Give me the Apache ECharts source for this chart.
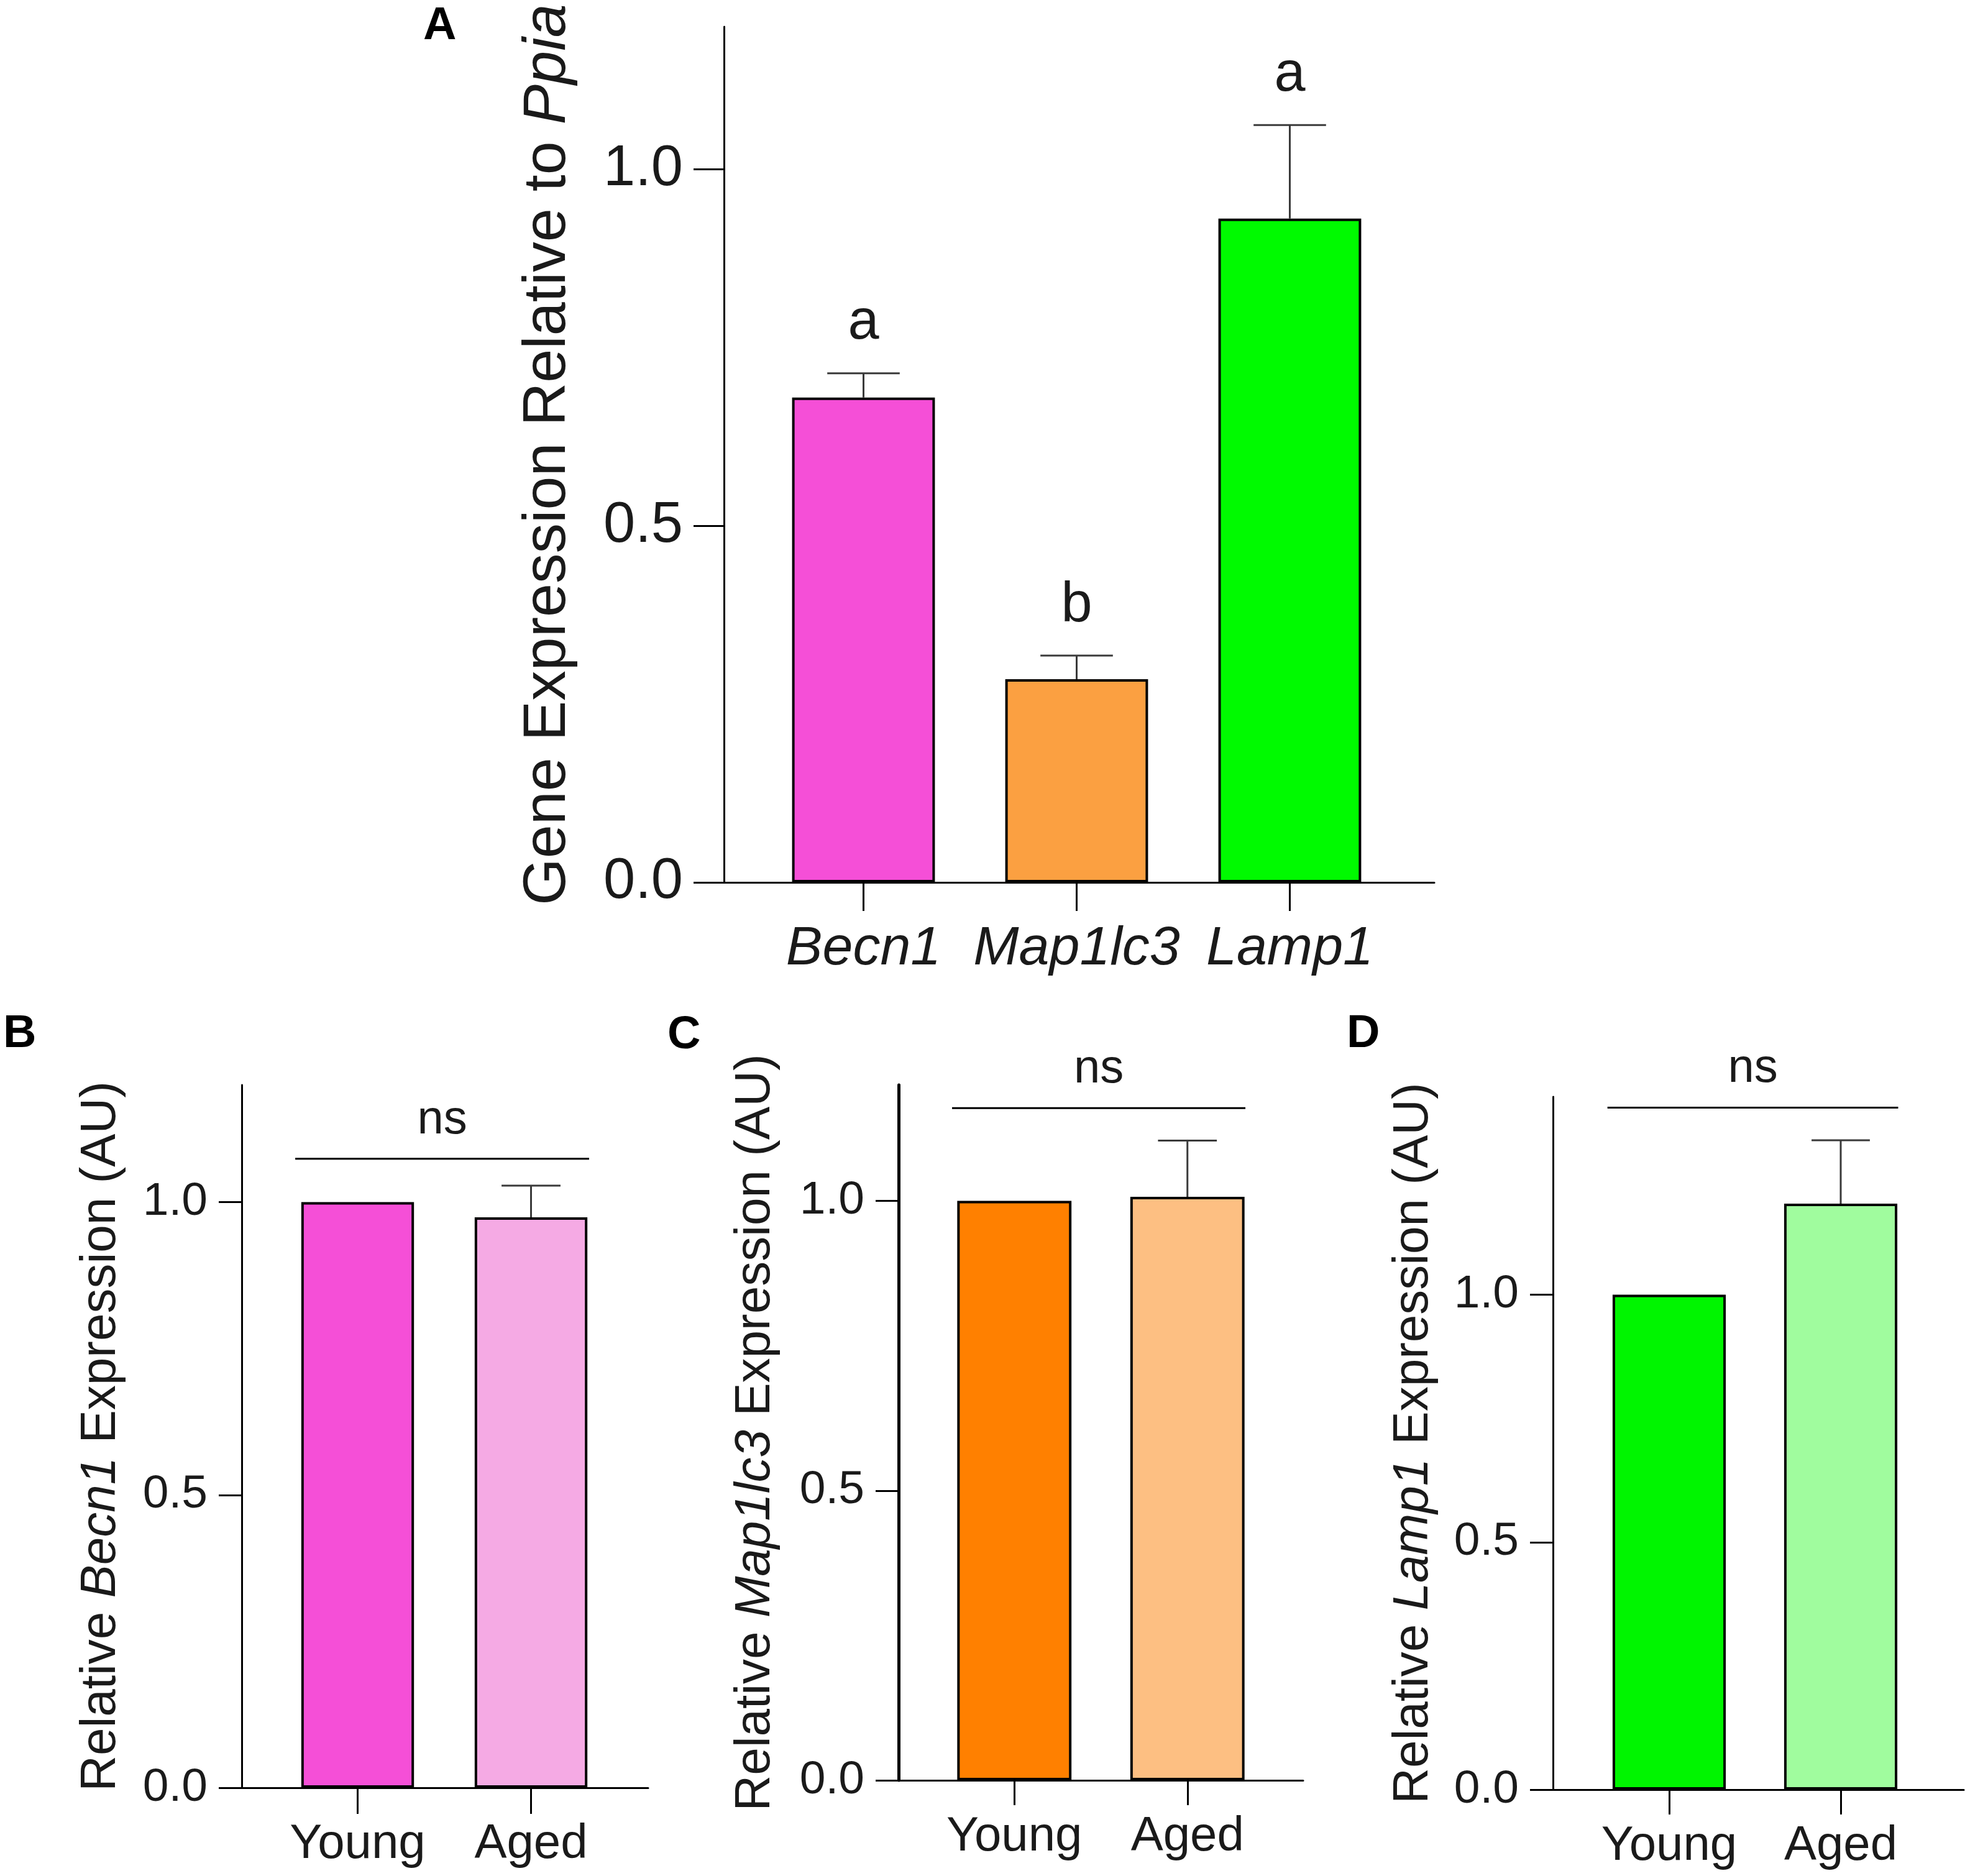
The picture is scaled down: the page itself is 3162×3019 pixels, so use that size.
<!DOCTYPE html>
<html>
<head>
<meta charset="utf-8">
<script src="https://cdn.jsdelivr.net/npm/echarts@6/dist/echarts.min.js"></script>
<style>
  html, body { margin: 0; padding: 0; background: #fff; }
  #main { width: 3162px; height: 3019px; }
</style>
</head>
<body>
<div id="main"></div>
<script>
// values
const geneNames = ['Becn1', 'Map1lc3', 'Lamp1'];
const geneValues = [0.68, 0.285, 0.931];
const geneErrors = [0.034, 0.033, 0.131];
const geneLetters = ['a', 'b', 'a'];
const geneColors = ['#f54fd7', '#fba041', '#00fa00'];

const ageGroups = ['Young', 'Aged'];
const becn1Values = [1.0, 0.974];
const becn1Errors = [0, 0.054];
const map1lc3Values = [1.0, 1.007];
const map1lc3Errors = [0, 0.097];
const lamp1Values = [1.0, 1.184];
const lamp1Errors = [0, 0.128];

const yTicks = [0, 0.5, 1.0];
const nsLevels = { B: 1.074, C: 1.160, D: 1.378 };

const FONT = '"Liberation Sans", Arial, sans-serif';
const INK = '#1a1a1a';

const option = {
    animation: false,
    backgroundColor: '#fff',
    title: [],
    grid: [],
    xAxis: [],
    yAxis: [],
    series: []
};

function addPanel(p) {
    const frame = option.grid.length;
    const bars = frame + 1;
    const height = p.bottom - p.top;

    option.title.push({
        text: p.letter, left: p.letterPos[0], top: p.letterPos[1], padding: 0,
        textStyle: { fontSize: 74, fontWeight: 'bold', fontFamily: FONT, color: '#000' }
    });

    // frame grid: axis lines and y ticks
    option.grid.push({ left: p.axisLeft, top: p.top, width: p.axisRight - p.axisLeft, height: height });
    // bar grid: narrower, holds bars and x ticks
    option.grid.push({ left: p.barLeft, top: p.top, width: p.barRight - p.barLeft, height: height });

    option.xAxis.push({
        gridIndex: frame, type: 'category', data: [''],
        axisLine: { lineStyle: { color: '#000', width: 3 } },
        axisTick: { show: false }, axisLabel: { show: false }
    });
    option.yAxis.push({
        gridIndex: frame, type: 'value', min: 0, max: p.max, interval: 0.5,
        axisLine: { show: true, lineStyle: { color: '#000', width: p.yLineWidth || 3 } },
        axisTick: { show: true, length: p.yTick, customValues: yTicks, lineStyle: { color: '#000', width: 3 } },
        axisLabel: {
            customValues: yTicks, margin: p.yMargin, fontSize: p.tickFont, fontFamily: FONT, color: INK,
            formatter: v => v.toFixed(1)
        },
        splitLine: { show: false },
        name: p.name, nameLocation: 'middle', nameGap: p.nameGap,
        nameTextStyle: {
            fontSize: p.nameFont, fontFamily: FONT, color: INK,
            rich: { i: { fontSize: p.nameFont, fontFamily: FONT, fontStyle: 'italic', color: INK } }
        }
    });

    option.xAxis.push({
        gridIndex: bars, type: 'category', data: p.categories,
        axisLine: { show: false },
        axisTick: { show: true, alignWithLabel: true, length: p.xTick, lineStyle: { color: '#000', width: 3 } },
        axisLabel: {
            interval: 0, margin: p.xMargin, fontSize: p.xFont, fontFamily: FONT, color: INK,
            fontStyle: p.italicX ? 'italic' : 'normal'
        }
    });
    option.yAxis.push({ gridIndex: bars, type: 'value', min: 0, max: p.max, show: false });

    option.series.push({
        type: 'bar', xAxisIndex: bars, yAxisIndex: bars, barWidth: p.barWidth, silent: true,
        itemStyle: { borderColor: '#000', borderWidth: 4 },
        data: p.values.map((v, i) => ({ value: v, itemStyle: { color: p.colors[i] } }))
    });

    const marks = p.marks || [];
    option.series.push({
        type: 'custom', xAxisIndex: bars, yAxisIndex: bars, silent: true, clip: false, z: 5,
        encode: { x: 0, y: 1 },
        data: p.values.map((v, i) => [i, v, p.errors[i]]),
        renderItem: function (params, api) {
            const i = api.value(0), v = api.value(1), e = api.value(2);
            const base = api.coord([i, v]);
            const top = api.coord([i, v + e]);
            const half = api.size([1, 0])[0] * 0.17;
            const line = { stroke: '#3a3a3a', lineWidth: 3 };
            const children = [];
            if (e > 0) {
                children.push({ type: 'line', shape: { x1: base[0], y1: base[1], x2: top[0], y2: top[1] }, style: line });
                children.push({ type: 'line', shape: { x1: top[0] - half, y1: top[1], x2: top[0] + half, y2: top[1] }, style: line });
            }
            const mark = marks[params.dataIndex];
            if (mark) {
                children.push({
                    type: 'text', x: top[0], y: top[1] - 80,
                    style: { text: mark, fontSize: 90, fontFamily: FONT, fill: INK, align: 'center', verticalAlign: 'middle' }
                });
            }
            return { type: 'group', children: children };
        }
    });

    if (p.ns != null) {
        option.series.push({
            type: 'custom', xAxisIndex: bars, yAxisIndex: bars, silent: true, clip: false, z: 5,
            encode: { x: 0, y: 2 },
            data: [[0, 1, p.ns]],
            renderItem: function (params, api) {
                const lvl = api.value(2);
                const a = api.coord([api.value(0), lvl]);
                const b = api.coord([api.value(1), lvl]);
                const band = api.size([1, 0])[0];
                const x1 = a[0] - band * 0.36, x2 = b[0] + band * 0.335;
                return {
                    type: 'group', children: [
                        { type: 'line', shape: { x1: x1, y1: a[1], x2: x2, y2: a[1] }, style: { stroke: '#000', lineWidth: 3 } },
                        {
                            type: 'text', x: (x1 + x2) / 2, y: a[1] - 62,
                            style: { text: 'ns', fontSize: 76, fontFamily: FONT, fill: INK, align: 'center', verticalAlign: 'middle' }
                        }
                    ]
                };
            }
        });
    }
}

addPanel({
    letter: 'A', letterPos: [681, 6],
    axisLeft: 1165, axisRight: 2308, top: 43, bottom: 1420, barLeft: 1218, barRight: 2247,
    max: 1.2, yTick: 49, yMargin: 66, tickFont: 92, barWidth: '67%',
    name: 'Gene Expression Relative to {i|Ppia}', nameFont: 97, nameGap: 234,
    categories: geneNames, italicX: true, xTick: 46, xMargin: 64, xFont: 88,
    values: geneValues, errors: geneErrors, colors: geneColors, marks: geneLetters
});
addPanel({
    letter: 'B', letterPos: [5, 1628],
    axisLeft: 389, axisRight: 1043, top: 1746, bottom: 2877, barLeft: 436, barRight: 994,
    max: 1.2, yTick: 37, yMargin: 55, tickFont: 75, barWidth: '65%',
    name: 'Relative {i|Becn1} Expression (AU)', nameFont: 80, nameGap: 186,
    categories: ageGroups, xTick: 42, xMargin: 52, xFont: 78,
    values: becn1Values, errors: becn1Errors, colors: ['#f54fd7', '#f5aae4'], ns: nsLevels.B
});
addPanel({
    letter: 'C', letterPos: [1074, 1630],
    axisLeft: 1446, axisRight: 2097, top: 1746, bottom: 2865, barLeft: 1493, barRight: 2050,
    max: 1.2, yTick: 37, yMargin: 55, tickFont: 75, barWidth: '66%', yLineWidth: 5,
    name: 'Relative {i|Map1lc3} Expression (AU)', nameFont: 80, nameGap: 190,
    categories: ageGroups, xTick: 40, xMargin: 52, xFont: 78,
    values: map1lc3Values, errors: map1lc3Errors, colors: ['#ff8000', '#fdbf82'], ns: nsLevels.C
});
addPanel({
    letter: 'D', letterPos: [2167, 1628],
    axisLeft: 2499, axisRight: 3160, top: 1765, bottom: 2880, barLeft: 2548, barRight: 3100,
    max: 1.4, yTick: 37, yMargin: 55, tickFont: 75, barWidth: '66%',
    name: 'Relative {i|Lamp1} Expression (AU)', nameFont: 80, nameGap: 184,
    categories: ageGroups, xTick: 40, xMargin: 52, xFont: 78,
    values: lamp1Values, errors: lamp1Errors, colors: ['#00f500', '#a0fc9e'], ns: nsLevels.D
});

const chart = echarts.init(document.getElementById('main'), null, { renderer: 'canvas' });
chart.setOption(option);
</script>
</body>
</html>
